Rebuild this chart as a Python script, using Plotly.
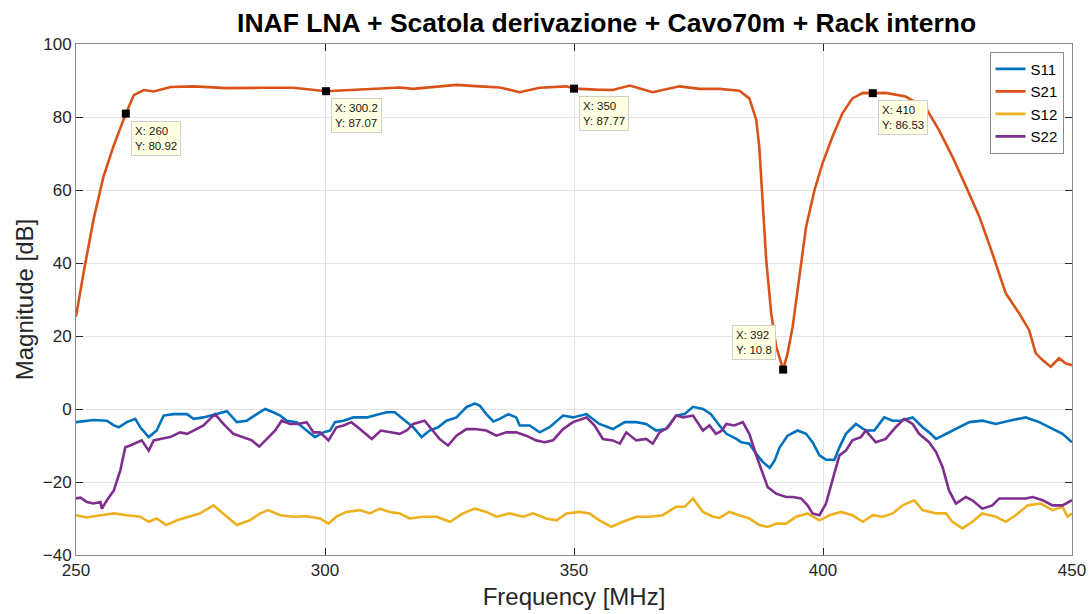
import plotly.graph_objects as go

# ---------------- data ----------------
s11_f = [250, 253.5, 256.2, 257.6, 258.6, 260.2, 261.9, 262.9, 264.6, 266.2, 267.6, 269.6, 272.3, 273.6, 275.6,
         277.9, 280.3, 282.3, 284.3, 286.3, 288, 289.6, 291, 292.3, 294.3, 296.3, 298, 299.7, 301, 302, 303.7,
         305.7, 308.4, 311, 312.4, 314, 315.7, 317.7, 319.4, 321, 322.7, 324.4, 326.4, 328.4, 330.1, 331.1,
         332.4, 333.8, 335.1, 336.8, 338.4, 339.1, 341.1, 343.1, 345.1, 347.8, 349.8, 352.5, 355.1, 357.8,
         360.2, 362.5, 364.5, 366.5, 368.5, 370.5, 372.2, 373.9, 375.9, 377.5, 379.2, 380.6, 382.6, 383.6,
         385.2, 386.6, 387.9, 389.3, 390.3, 391.3, 392.9, 394.9, 396.6, 397.9, 399.3, 400.6, 402.3, 403.3,
         404.6, 406.6, 408.6, 410.3, 412.3, 414, 415.6, 418, 420, 421.3, 422.7, 424.7, 426.7, 429.4, 432,
         434.7, 437.4, 440.7, 443.4, 446.1, 448.1, 450]
s11_db = [-3.6, -3.0, -3.2, -4.5, -5.0, -3.6, -2.7, -5.0, -7.7, -5.9, -1.8, -1.4, -1.4, -2.7, -2.3,
          -1.4, -0.6, -3.6, -3.2, -1.4, 0.0, -0.9, -1.8, -3.2, -3.6, -5.9, -7.7, -6.4, -5.9, -3.6, -3.2,
          -2.3, -2.3, -1.4, -0.9, -0.9, -2.7, -5.0, -7.7, -5.9, -5.0, -3.2, -2.3, 0.5, 1.5, 0.9,
          -1.4, -3.4, -2.7, -1.4, -2.3, -4.5, -4.5, -6.4, -5.0, -1.8, -2.3, -1.4, -4.1, -5.5,
          -3.6, -3.6, -4.1, -5.9, -5.5, -1.8, -1.4, 0.6, 0.0, -1.4, -4.5, -6.8, -8.2, -9.1,
          -9.5, -12.3, -14.5, -16.1, -14.1, -10.5, -7.3, -5.9, -6.8, -9.1, -12.7, -13.9, -13.9, -10.5,
          -6.8, -4.1, -5.9, -5.9, -2.3, -3.2, -3.2, -2.3, -5.0, -6.4, -8.2, -6.8, -5.5, -3.6, -3.2,
          -4.1, -3.2, -2.3, -3.6, -5.5, -6.8, -9.1]

s21_f = [250, 251.5, 253.5, 255.5, 257.5, 260, 261.6, 263.6, 265.6, 269, 273.6, 280.3, 287, 293.7, 300.2,
         307, 311, 315, 317.7, 321, 326.4, 331.1, 335.1, 339.1, 343.1, 348.5, 350, 354.5, 357.8, 361.2,
         365.8, 371.2, 375.2, 379.2, 383.2, 385.2, 386.6, 387.2, 387.9, 388.6, 389.6, 390.6, 392, 392.9,
         393.9, 395.3, 396.6, 398.3, 399.9, 401.9, 403.9, 405.9, 408, 410, 412.6, 416.6, 420.7, 423.3,
         426, 428.7, 431.4, 434, 436.7, 439.4, 441.4, 442.7, 444.1, 445.7, 447.4, 448.7, 450]
s21_db = [25.3, 37.2, 51.8, 63.6, 71.9, 80.92, 86.0, 87.4, 87.0, 88.2, 88.4, 87.9, 88.0, 88.0, 87.07,
          87.5, 87.7, 88.1, 87.7, 88.1, 88.8, 88.4, 88.1, 86.8, 88.0, 88.4, 87.77, 87.5, 87.4, 88.6,
          86.8, 88.4, 87.7, 87.7, 87.2, 85.1, 79.2, 71.9, 55.4, 40.8, 26.2, 17.1, 10.8, 15.3,
          22.5, 37.2, 49.9, 60.0, 67.3, 74.6, 81.0, 85.1, 86.6, 86.53, 86.6, 85.6, 82.4, 76.4,
          69.1, 61.0, 52.7, 42.7, 31.7, 26.2, 21.6, 15.3, 13.4, 11.6, 13.9, 12.5, 12.0]

s12_f = [250, 252.2, 254.9, 257.6, 260.2, 262.9, 264.6, 266.2, 268.1, 270.3, 272.6, 274.9, 277.6, 279.6,
         282.3, 284.9, 287, 288.6, 291, 293.7, 296.3, 299, 300.7, 302.3, 304.3, 307, 309, 311, 313, 315,
         317, 319.7, 322.4, 325.1, 327.7, 330.1, 332.4, 334.4, 337.1, 339.8, 341.8, 344.4, 346.5, 348.5,
         351.1, 353.1, 355.1, 357.5, 359.8, 362.5, 365.2, 367.8, 370.5, 372.2, 373.9, 375.9, 377.9, 379.2,
         381.2, 383.2, 385.2, 387.2, 388.9, 390.6, 392.6, 394.6, 396.9, 399.3, 401.3, 403.6, 405.9, 408,
         410, 412, 414, 416, 418.3, 420, 422.7, 424.7, 426, 428, 430, 432, 434.7, 436.7, 438.7, 441.1,
         443.7, 446.1, 448.1, 449.1, 450]
s12_db = [-29.1, -29.7, -29.1, -28.6, -29.1, -29.5, -30.9, -30.0, -31.8, -30.5, -29.5, -28.6, -26.4, -28.6,
          -31.8, -30.5, -28.6, -27.7, -29.1, -29.5, -29.4, -30.0, -31.4, -29.5, -28.2, -27.7, -28.6, -27.3,
          -28.2, -28.6, -30.0, -29.5, -29.5, -30.9, -28.6, -27.3, -28.2, -29.5, -28.6, -29.5, -28.6, -30.0,
          -30.5, -28.6, -28.2, -28.6, -30.5, -32.3, -30.9, -29.5, -29.5, -29.1, -26.8, -26.8, -24.5, -28.2,
          -29.5, -29.8, -28.2, -29.1, -30.0, -31.8, -32.3, -31.4, -31.4, -29.5, -28.6, -30.5, -29.1, -28.2,
          -29.1, -30.9, -29.1, -29.5, -28.6, -26.4, -25.0, -27.7, -28.6, -28.6, -30.9, -32.7, -30.9, -28.6,
          -29.5, -30.9, -29.1, -26.4, -25.9, -27.7, -26.8, -29.5, -28.6]

s22_f = [250, 250.9, 252.2, 253.5, 254.9, 255.2, 256.2, 257.6, 258.9, 259.9, 260.9, 262.2, 263.2, 264.6,
         265.6, 266.9, 268.9, 270.9, 272.3, 273.6, 275.6, 277.9, 279.6, 281.6, 283.6, 285.3, 286.8, 288.3,
         290, 291.3, 293, 294.6, 296.3, 297.7, 299, 300.7, 302.3, 303.7, 305.3, 307, 309.4, 311.2, 313,
         315, 316.4, 317.7, 320, 321.7, 323, 324.7, 326.4, 328.4, 330.1, 332.4, 334.4, 336.4, 338.4, 340.4,
         342.4, 344.1, 345.8, 347.8, 349.8, 352.5, 354.1, 355.8, 357.8, 359.2, 360.5, 362.5, 364.5, 365.8,
         367.2, 368.9, 370.5, 371.9, 373.9, 375.9, 377.2, 378.5, 379.6, 380.6, 382.2, 383.9, 385.2, 386.6,
         387.9, 388.9, 390.6, 392.6, 393.9, 395.6, 396.9, 397.9, 399.3, 400.6, 401.9, 403.3, 404.6, 405.9,
         407.6, 408.6, 410.6, 412.6, 414.6, 416.3, 418, 419.3, 421.3, 422.7, 424, 425.3, 426.7, 428.7, 430,
         432, 434, 435.4, 438, 440.7, 442.1, 444.1, 446.1, 448.1, 450]
s22_db = [-24.5, -24.3, -25.5, -25.9, -25.5, -27.3, -25.0, -22.3, -16.8, -10.5, -10.0, -9.1, -8.6, -11.4,
          -8.6, -8.2, -7.7, -6.4, -6.8, -5.9, -4.5, -1.4, -4.1, -6.8, -7.7, -8.6, -10.3, -8.2,
          -5.9, -3.2, -4.1, -4.1, -3.6, -6.4, -6.4, -8.6, -5.0, -4.5, -3.6, -5.5, -8.2, -5.9, -6.4,
          -6.8, -5.9, -4.1, -3.2, -5.9, -8.2, -10.0, -7.3, -5.5, -5.5, -5.9, -7.3, -6.4, -6.4, -7.3,
          -8.6, -9.1, -8.6, -5.5, -3.6, -2.3, -4.5, -8.2, -8.6, -9.5, -6.4, -8.6, -8.2, -9.5,
          -6.4, -5.0, -1.8, -2.3, -1.8, -5.9, -4.5, -6.8, -6.0, -4.1, -4.5, -3.6, -6.8, -12.7,
          -17.7, -21.4, -23.2, -24.1, -24.1, -24.5, -26.4, -28.6, -29.1, -25.9, -19.5, -12.7, -11.4, -8.6,
          -7.7, -5.9, -9.1, -8.2, -5.0, -2.7, -4.1, -6.8, -9.1, -11.8, -15.9, -22.3, -25.9, -24.1, -25.0,
          -27.3, -26.4, -24.5, -24.5, -24.5, -24.1, -25.0, -26.4, -26.4, -25.0]

tip_x = [260, 300.2, 350, 392, 410]
tip_y = [80.92, 87.07, 87.77, 10.8, 86.53]
tip_label_x = ["260", "300.2", "350", "392", "410"]
tip_label_y = ["80.92", "87.07", "87.77", "10.8", "86.53"]

x_ticks = [250, 300, 350, 400, 450]
y_ticks = [-40, -20, 0, 20, 40, 60, 80, 100]

# ---------------- figure ----------------
FONT = "Liberation Sans, Arial, sans-serif"
TXT = "#262626"

fig = go.Figure()
series = [("S11", s11_f, s11_db, "#0072BD"),
          ("S21", s21_f, s21_db, "#D95319"),
          ("S12", s12_f, s12_db, "#EDB120"),
          ("S22", s22_f, s22_db, "#7E2F8E")]
for name, xs, ys, col in series:
    fig.add_trace(go.Scatter(x=xs, y=ys, mode="lines", name=name,
                             line=dict(color=col, width=2.6)))

fig.add_trace(go.Scatter(x=tip_x, y=tip_y, mode="markers", showlegend=False,
                         marker=dict(symbol="square", size=8, color="black")))

for i, (tx, ty) in enumerate(zip(tip_x, tip_y)):
    left = (tip_label_x[i] == "392")
    fig.add_annotation(x=tx, y=ty, xref="x", yref="y", showarrow=False,
                       text=f"X: {tip_label_x[i]}<br>Y: {tip_label_y[i]}",
                       align="left",
                       xanchor="right" if left else "left",
                       yanchor="bottom" if left else "top",
                       xshift=-7 if left else 5,
                       yshift=10 if left else -7,
                       font=dict(family=FONT, size=11.5, color="#1a1a1a"),
                       bgcolor="#FFFFE1", bordercolor="#cfcfcf", borderwidth=1, borderpad=3)

axis_common = dict(showgrid=True, gridcolor="#e3e3e3", gridwidth=1,
                   showline=True, linecolor="#8a8a8a", linewidth=1, mirror="ticks",
                   ticks="inside", ticklen=7, tickcolor="#262626", tickwidth=1,
                   zeroline=False,
                   tickfont=dict(family=FONT, size=17, color=TXT))

fig.update_xaxes(range=[250, 450], tickvals=x_ticks, **axis_common,
                 title=dict(text="Frequency [MHz]", font=dict(family=FONT, size=24, color=TXT), standoff=8))
fig.update_yaxes(range=[-40, 100], tickvals=y_ticks, **axis_common,
                 title=dict(text="Magnitude [dB]", font=dict(family=FONT, size=24, color=TXT), standoff=2))

fig.update_layout(
    width=1092, height=614,
    margin=dict(l=76, r=20, t=44, b=59, autoexpand=False),
    paper_bgcolor="white", plot_bgcolor="white",
    title=dict(text="<b>INAF LNA + Scatola derivazione + Cavo70m + Rack interno</b>",
               x=0.5555, xanchor="center", y=0.963, yanchor="middle",
               font=dict(family=FONT, size=26.5, color="black")),
    legend=dict(x=0.9915, y=0.985, xanchor="right", yanchor="top",
                bgcolor="white", bordercolor="#8a8a8a", borderwidth=1,
                font=dict(family=FONT, size=15, color="black"),
                tracegroupgap=0, itemwidth=30),
    showlegend=True,
)

fig.write_html("out.html",
               config={"displayModeBar": False},
               post_script="document.body.style.margin='0';document.body.style.padding='0';"
                           "document.body.style.overflow='hidden';")
